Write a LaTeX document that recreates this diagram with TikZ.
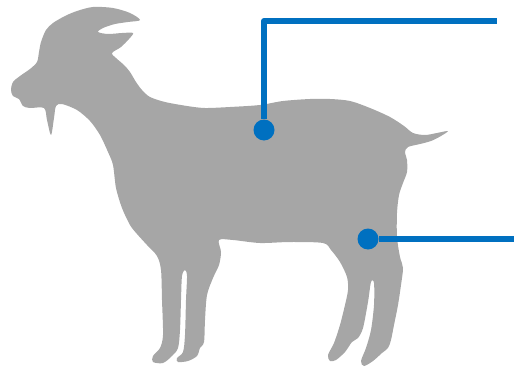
\documentclass[tikz,border=0pt]{standalone}
\begin{document}
\definecolor{goatgray}{RGB}{166,166,166}
\definecolor{leaderblue}{RGB}{0,112,192}
\begin{tikzpicture}[x=1pt,y=-1pt,
  leader/.style={draw=leaderblue,line width=6pt,line join=round},
  pin/.style={circle,fill=leaderblue,minimum size=21pt,inner sep=0pt}]
\useasboundingbox (0,0) rectangle (514,369);
% goat silhouette
\fill[goatgray] plot[smooth cycle,tension=0.5] coordinates {
 (11,90) (13,82) (20,76) (30,69) (37,62) (39,52) (41,42) (46,30) (53,23)
 (65,16) (77,11) (93,7) (113,8) (130,13) (140,20) (128,22) (115,24) (103,28)
 (98,32) (108,34) (122,33) (133,33) (129,39) (121,47) (112,53) (116,58)
 (124,65) (130,72) (136,82) (142,90) (150,97) (165,102) (187,106) (205,108)
 (230,107) (260,105) (283,101) (310,99) (330,99) (350,101) (370,108)
 (390,117) (404,126) (413,133) (425,135) (437,133) (448,131) (441,136)
 (431,141) (420,144) (408,147) (405,152) (407,160) (407,172) (403,183)
 (399,195) (397,213) (397,237) (400,257) (403,268) (401,285) (398,305)
 (394,325) (391,340) (388,348) (382,353) (373,361) (364,366) (361,361)
 (366,348) (371,330) (374,305) (374,283) (371,282) (368,302) (363,328)
 (358,338) (352,342) (345,352) (336,360) (330,361) (328,355) (334,343)
 (340,325) (345,305) (348,290) (347,277) (340,262) (331,250) (323,243)
 (290,242) (260,243) (233,240) (219,240) (221,252) (219,265) (213,278)
 (207,295) (205,320) (204,342) (200,348) (197,356) (188,361) (178,362)
 (177,358) (183,352) (185,335) (186,300) (187,276) (185,270) (182,276)
 (181,300) (180,330) (178,348) (172,356) (163,363) (153,362) (153,356)
 (160,348) (163,335) (162,300) (161,270) (157,256) (147,245) (137,234)
 (130,225) (122,208) (116,188) (113,165) (108,152) (100,135) (90,121)
 (77,110) (62,104) (56,106) (54,118) (51,135) (47,120) (44,108) (30,108)
 (23,106) (19,99) (13,96)};
% pins with their leader lines
\node[pin] (body) at (264,130) {};
\node[pin] (leg) at (368,239) {};
\coordinate (top end) at (497,21);
\coordinate (side end) at (514,239);
\draw[leader] (body) |- (top end);
\draw[leader] (leg) -- (side end);
\end{tikzpicture}
\end{document}
